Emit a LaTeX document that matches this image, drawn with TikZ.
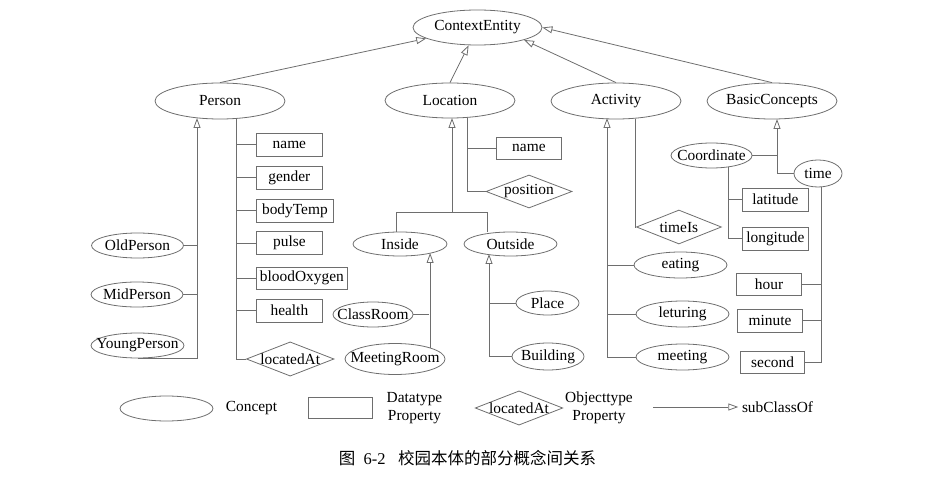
\documentclass[tikz,border=0pt]{standalone}
\usepackage{fontspec}
\setmainfont{Liberation Serif}
\newfontfamily\cjk{Noto Sans CJK SC}
\usetikzlibrary{shapes.geometric,arrows.meta}
\definecolor{lc}{RGB}{110,110,110}

\begin{document}
\begin{tikzpicture}[x=1pt, y=-1pt, color=lc, line width=0.8pt,
	font=\fontsize{15.4}{18}\selectfont,
	every node/.style={text=black},
	concept/.style={shape=ellipse, draw, inner xsep=-10pt, inner ysep=0pt, minimum width=130pt, minimum height=36pt},
	data/.style={shape=rectangle, draw, inner xsep=3.5pt, inner ysep=0pt, minimum width=66pt, minimum height=23pt},
	objprop/.style={shape=diamond, draw, aspect=2.56, inner sep=0pt, minimum width=86pt, minimum height=33pt},
	sub/.style={-{Triangle[open, length=10pt, width=7pt]}}]

	\useasboundingbox (0,0) rectangle (931,478);

	\node[concept, minimum width=129pt, minimum height=35pt] (ce) at (477.5,27.5) {ContextEntity};
	\node[concept] (person)   at (220,101)   {Person};
	\node[concept, minimum height=35pt] (location) at (450,100.5) {Location};
	\node[concept] (activity) at (616,101)   {Activity};
	\node[concept] (basic)    at (772,101)   {BasicConcepts};

	\path[sub] (person.north) edge (ce);
	\path[sub] (location.north) edge (ce);
	\path[sub] (activity.north) edge (ce.-15);
	\path[sub] (basic.north) edge (ce.east);

	% Person
	\node[data, anchor=west] (pname)    at (256,144.5) {name};
	\node[data, anchor=west] (gender)   at (256,177.5) {gender};
	\node[data, anchor=west, minimum width=77pt] (bodytemp) at (256,210.5) {bodyTemp};
	\node[data, anchor=west] (pulse)    at (256,243)   {pulse};
	\node[data, anchor=west, minimum width=91pt, minimum height=22pt] (blood) at (256,278) {bloodOxygen};
	\node[data, anchor=west] (health)   at (256,310.5) {health};
	\node[objprop, anchor=west] (locatedat) at (246,359) {locatedAt};

	\node[concept, minimum width=92pt, minimum height=25pt] (oldp)   at (137.5,245.5) {OldPerson};
	\node[concept, minimum width=92pt, minimum height=25pt] (midp)   at (137,294.5)   {MidPerson};
	\node[concept, minimum width=93pt, minimum height=25pt] (youngp) at (137.5,345.5) {YoungPerson};

	\coordinate (psub) at (197,118);
	\coordinate (pbus) at (236,119);
	\draw[sub] (youngp.south) -| (psub);
	\draw (oldp.east) -- (oldp.east -| psub);
	\draw (midp.east) -- (midp.east -| psub);
	\draw (pbus) |- (pname.west);
	\draw (pbus) |- (gender.west);
	\draw (pbus) |- (bodytemp.west);
	\draw (pbus) |- (pulse.west);
	\draw (pbus) |- (blood.west);
	\draw (pbus) |- (health.west);
	\draw (pbus) |- (locatedat.west);

	% Location
	\node[data, anchor=west, minimum width=65pt, minimum height=22pt] (lname) at (496,148) {name};
	\node[objprop] (position) at (529,191.5) {position};
	\node[concept, minimum width=94pt, minimum height=24pt] (inside)  at (400,244)   {Inside};
	\node[concept, minimum width=93pt, minimum height=24pt] (outside) at (510.5,244) {Outside};
	\node[concept, minimum width=80pt, minimum height=25pt] (classroom)   at (373,314.5) {ClassRoom};
	\node[concept, minimum width=100pt, minimum height=31pt] (meetingroom) at (395,359) {MeetingRoom};
	\node[concept, minimum width=63pt, minimum height=24pt] (place)    at (547.5,303) {Place};
	\node[concept, minimum width=72pt, minimum height=27pt] (building) at (548,356.5) {Building};

	\coordinate (lsub) at (452,118);
	\coordinate (lbar) at (452,212);
	\coordinate (lbl) at (396,212);
	\coordinate (lbr) at (487,212);
	\coordinate (lbus) at (467,118);
	\draw[sub] (lbar) -- (lsub);
	\draw (inside.north -| lbl) |- (lbr) -- (outside.north -| lbr);
	\draw (lbus) |- (lname.west);
	\draw (lbus) |- (position.west);

	\coordinate (isub) at (429,253);
	\coordinate (osub) at (489,254);
	\draw[sub] (meetingroom.18) -- (meetingroom.18 |- isub);
	\draw (classroom.east) -- (classroom.east -| isub);
	\draw[sub] (building.west) -| (osub);
	\draw (place.west) -- (place.west -| osub);

	% Activity
	\node[objprop, anchor=west, minimum width=85pt, minimum height=34pt] (timeis) at (636,227) {timeIs};
	\node[concept, minimum width=93pt, minimum height=26pt] (eating)   at (680.5,265) {eating};
	\node[concept, minimum width=93pt, minimum height=26pt] (leturing) at (682.5,314) {leturing};
	\node[concept, minimum width=93pt, minimum height=26pt] (meeting)  at (682.5,357) {meeting};

	\coordinate (asub) at (607,118);
	\coordinate (abus) at (635,119);
	\draw[sub] (meeting.west) -| (asub);
	\draw (eating.west) -- (eating.west -| asub);
	\draw (leturing.west) -- (leturing.west -| asub);
	\draw (abus) |- (timeis.west);

	% BasicConcepts
	\node[concept, minimum width=81pt, minimum height=25pt] (coord) at (711.5,155.5) {Coordinate};
	\node[concept, minimum width=48pt, minimum height=27pt] (time)  at (818,173.5)   {time};
	\node[data, anchor=west] (latitude)  at (742,199.5) {latitude};
	\node[data, anchor=west] (longitude) at (742,238.5) {longitude};
	\node[data, anchor=east, minimum width=65pt, minimum height=22pt] (hour)   at (802,284)   {hour};
	\node[data, anchor=east, minimum width=65pt] (minute) at (803,320.5) {minute};
	\node[data, anchor=east, minimum width=64pt, minimum height=22pt] (second) at (805,362) {second};

	\coordinate (bsub) at (777,119);
	\coordinate (cbus) at (728,167);
	\coordinate (tbus) at (821,187);
	\draw[sub] (time.west) -| (bsub);
	\draw (coord.east) -- (coord.east -| bsub);
	\draw (cbus) |- (latitude.west);
	\draw (cbus) |- (longitude.west);
	\draw (tbus) |- (hour.east);
	\draw (tbus) |- (minute.east);
	\draw (tbus) |- (second.east);

	% legend
	\node[concept, minimum width=93pt, minimum height=25pt] (lgconcept) at (166.5,408.5) {};
	\node (lgconcepttext) at (251.5,408) {Concept};
	\node[data, minimum width=64pt, minimum height=21pt] (lgdata) at (340,407.5) {};
	\node[align=center] (lgdatatext) at (414.5,408) {Datatype\\Property};
	\node[objprop, minimum height=32pt] (lgobj) at (519,408) {locatedAt};
	\node[align=center] (lgobjtext) at (599,408) {Objecttype\\Property};
	\node (lgsubtext) at (777.5,407) {subClassOf};
	\coordinate (lgarrow) at (653,407);
	\draw[sub] (lgarrow) -- (lgsubtext.west);

	\node (caption) at (467.5,458) {\fontsize{16.5}{18}\selectfont{\cjk 图}\enspace 6-2\enspace\ {\cjk 校园本体的部分概念间关系}};

\end{tikzpicture}
\end{document}
